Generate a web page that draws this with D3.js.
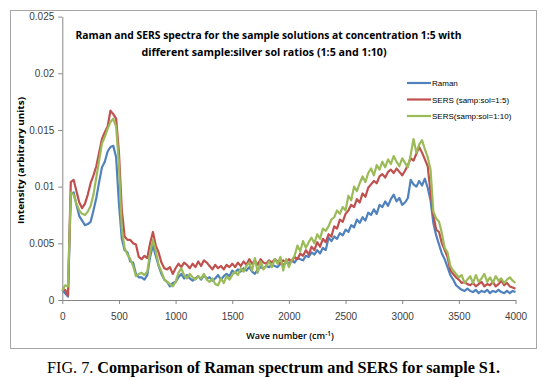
<!DOCTYPE html>
<html>
<head>
<meta charset="utf-8">
<script src="https://cdn.jsdelivr.net/npm/d3@7"></script>
<style>
  html, body { margin: 0; padding: 0; background: #fff; }
  svg { display: block; }
</style>
</head>
<body>
<svg id="chart" width="547" height="380"></svg>
<script>
// ---- DATA ----
const wavenumbers = [0,25,50,75,100,125,150,175,200,225,250,275,300,325,350,375,400,425,450,475,
500,525,550,575,600,625,650,675,700,725,750,775,800,825,850,875,900,925,950,975,
1000,1025,1050,1075,1100,1125,1150,1175,1200,1225,1250,1275,1300,1325,1350,1375,1400,1425,1450,1475,
1500,1525,1550,1575,1600,1625,1650,1675,1700,1725,1750,1775,1800,1825,1850,1875,1900,1925,1950,1975,
2000,2025,2050,2075,2100,2125,2150,2175,2200,2225,2250,2275,2300,2325,2350,2375,2400,2425,2450,2475,
2500,2525,2550,2575,2600,2625,2650,2675,2700,2725,2750,2775,2800,2825,2850,2875,2900,2925,2950,2975,
3000,3025,3050,3075,3100,3125,3150,3175,3200,3225,3250,3275,3300,3325,3350,3375,3400,3425,3450,3475,
3500,3525,3550,3575,3600,3625,3650,3675,3700,3725,3750,3775,3800,3825,3850,3875,3900,3925,3950,3975,4000];

const raman = [.0009,.0006,.0003,.0093,.0095,.0084,.0074,.0070,.0066,.0067,.0069,.0079,.0090,.0104,.0117,.0122,.0131,.0135,.0136,.0126,
.0085,.0054,.0044,.0042,.0034,.0033,.0023,.0020,.0020,.0018,.0022,.0038,.0048,.0039,.0030,.0023,.0018,.0016,.0012,.0015,
.0016,.0020,.0023,.0019,.0022,.0019,.0017,.0019,.0021,.0018,.0022,.0019,.0020,.0017,.0019,.0022,.0018,.0021,.0023,.0021,
.0026,.0024,.0027,.0025,.0028,.0026,.0029,.0025,.0023,.0027,.0029,.0028,.0030,.0029,.0031,.0030,.0029,.0032,.0031,.0033,
.0032,.0035,.0033,.0037,.0036,.0035,.0039,.0038,.0042,.0040,.0044,.0041,.0046,.0044,.0055,.0052,.0056,.0054,.0059,.0057,
.0062,.0060,.0066,.0064,.0071,.0068,.0073,.0070,.0077,.0075,.0080,.0076,.0084,.0082,.0087,.0083,.0089,.0093,.0087,.0090,
.0084,.0086,.0090,.0106,.0102,.0100,.0105,.0101,.0107,.0099,.0088,.0068,.0057,.0049,.0041,.0036,.0029,.0022,.0018,.0013,
.0011,.0009,.0008,.0010,.0008,.0007,.0009,.0006,.0008,.0007,.0009,.0006,.0008,.0007,.0009,.0007,.0006,.0008,.0006,.0008,.0007];

const sers15 = [.0009,.0009,.0004,.0104,.0106,.0096,.0086,.0081,.0085,.0093,.0103,.0110,.0118,.0130,.0142,.0148,.0153,.0167,.0164,.0160,
.0130,.0080,.0056,.0053,.0053,.0050,.0049,.0038,.0036,.0039,.0037,.0050,.0060,.0048,.0042,.0033,.0028,.0027,.0029,.0023,
.0028,.0032,.0029,.0033,.0031,.0028,.0032,.0029,.0034,.0030,.0035,.0033,.0030,.0027,.0031,.0028,.0030,.0027,.0031,.0029,
.0032,.0029,.0033,.0030,.0034,.0031,.0036,.0032,.0035,.0031,.0036,.0033,.0032,.0035,.0033,.0036,.0034,.0032,.0035,.0033,
.0036,.0034,.0038,.0036,.0041,.0039,.0044,.0040,.0047,.0044,.0051,.0047,.0054,.0051,.0058,.0056,.0065,.0063,.0071,.0069,
.0076,.0079,.0084,.0082,.0089,.0086,.0094,.0091,.0099,.0102,.0105,.0103,.0109,.0111,.0108,.0113,.0115,.0112,.0116,.0113,
.0110,.0114,.0119,.0125,.0123,.0129,.0135,.0130,.0124,.0118,.0095,.0075,.0062,.0060,.0050,.0044,.0038,.0026,.0023,.0020,
.0018,.0015,.0016,.0014,.0013,.0015,.0012,.0014,.0016,.0012,.0014,.0013,.0016,.0012,.0014,.0017,.0013,.0015,.0012,.0011,.0010];

const sers110 = [.0008,.0013,.0012,.0095,.0093,.0085,.0079,.0076,.0075,.0078,.0083,.0093,.0108,.0123,.0138,.0144,.0151,.0157,.0160,.0153,
.0120,.0063,.0046,.0040,.0036,.0030,.0021,.0023,.0024,.0022,.0025,.0042,.0053,.0043,.0031,.0025,.0018,.0016,.0014,.0012,
.0016,.0024,.0028,.0022,.0019,.0023,.0020,.0018,.0021,.0019,.0023,.0018,.0016,.0019,.0014,.0013,.0019,.0015,.0021,.0018,
.0022,.0025,.0022,.0028,.0025,.0030,.0033,.0026,.0037,.0024,.0034,.0027,.0030,.0034,.0029,.0036,.0032,.0038,.0026,.0036,
.0029,.0035,.0039,.0048,.0043,.0052,.0046,.0051,.0055,.0050,.0058,.0054,.0063,.0061,.0065,.0071,.0073,.0079,.0076,.0082,
.0079,.0092,.0088,.0100,.0096,.0103,.0109,.0104,.0112,.0116,.0110,.0119,.0115,.0122,.0117,.0124,.0120,.0127,.0122,.0118,
.0125,.0121,.0117,.0128,.0142,.0130,.0137,.0141,.0133,.0126,.0115,.0078,.0072,.0069,.0059,.0046,.0042,.0030,.0026,.0023,
.0020,.0022,.0015,.0018,.0021,.0015,.0022,.0016,.0019,.0023,.0016,.0020,.0015,.0021,.0017,.0019,.0015,.0018,.0020,.0017,.0015];

const seriesNames = ["Raman", "SERS (samp:sol=1:5)", "SERS(samp:sol=1:10)"];
const seriesColors = ["#4F81BD", "#C0504D", "#9BBB59"];
const xTicks = [0,500,1000,1500,2000,2500,3000,3500,4000];
const yTicks = [0,0.005,0.01,0.015,0.02,0.025];
const yTickLabels = ["0","0.005","0.01","0.015","0.02","0.025"];
const titleLines = ["Raman and SERS spectra for the sample solutions at concentration 1:5  with",
                    "different sample:silver sol ratios (1:5 and 1:10)"];

// ---- LAYOUT ----
const svg = d3.select("#chart");
const x = d3.scaleLinear().domain([0, 4000]).range([62.3, 515.5]);
const y = d3.scaleLinear().domain([0, 0.025]).range([300, 16.6]);
const axisColor = "#868686";
const tickFont = "Liberation Sans, Arial, sans-serif";

// chart frame
svg.append("rect").attr("x", 10.5).attr("y", 10.5).attr("width", 526).attr("height", 338)
  .attr("fill", "#fff").attr("stroke", "#a6a6a6").attr("stroke-width", 1);

// axes
const xAxis = d3.axisBottom(x).tickValues(xTicks).tickSize(4).tickSizeOuter(0).tickPadding(9)
  .tickFormat(d3.format("d"));
const gx = svg.append("g").attr("transform", "translate(0,300)").call(xAxis);
const yAxis = d3.axisLeft(y).tickValues(yTicks).tickSize(4).tickSizeOuter(0).tickPadding(4)
  .tickFormat((d, i) => yTickLabels[i]);
const gy = svg.append("g").attr("transform", "translate(62.3,0)").call(yAxis);
[gx, gy].forEach(g => {
  g.select(".domain").attr("stroke", axisColor);
  g.selectAll(".tick line").attr("stroke", axisColor);
  g.selectAll(".tick text").attr("fill", "#404040").style("font-family", tickFont).style("font-size", "10px");
});

// lines
const series = [raman, sers15, sers110];
const line = d3.line().x((d, i) => x(wavenumbers[i])).y(d => y(d));
series.forEach((s, k) => {
  svg.append("path").datum(s).attr("d", line).attr("fill", "none")
    .attr("stroke", seriesColors[k]).attr("stroke-width", 2.2).attr("stroke-linejoin", "round");
});

// title
const title = svg.append("g").style("font-family", "Open Sans, sans-serif").style("font-weight", "bold")
  .style("font-size", "11px").attr("fill", "#000");
title.append("text").attr("x", 75.5).attr("y", 39).attr("textLength", 386).attr("lengthAdjust", "spacingAndGlyphs").text(titleLines[0]);
title.append("text").attr("x", 141.5).attr("y", 56).attr("textLength", 245).attr("lengthAdjust", "spacingAndGlyphs").text(titleLines[1]);

// legend
const legendY = [83, 99.5, 116];
seriesNames.forEach((n, k) => {
  svg.append("line").attr("x1", 407).attr("x2", 431).attr("y1", legendY[k]).attr("y2", legendY[k])
    .attr("stroke", seriesColors[k]).attr("stroke-width", 2.2);
  svg.append("text").attr("x", 432).attr("y", legendY[k] + 3).style("font-family", tickFont)
    .style("font-size", "8px").attr("fill", "#000").text(n);
});

// axis titles
svg.append("text").attr("transform", "translate(24,160.5) rotate(-90)").attr("text-anchor", "middle")
  .style("font-family", "Open Sans, sans-serif").style("font-weight", "bold").style("font-size", "9px")
  .attr("textLength", 127).attr("lengthAdjust", "spacingAndGlyphs")
  .text("Intensity (arbitrary units)");
const xl = svg.append("text").attr("x", 290).attr("y", 339).attr("text-anchor", "middle")
  .style("font-family", "Open Sans, sans-serif").style("font-weight", "600").style("font-size", "9px");
xl.append("tspan").text("Wave number (cm");
xl.append("tspan").attr("dy", -3).style("font-size", "6.5px").text("-1");
xl.append("tspan").attr("dy", 3).text(")");

// caption
const cap = svg.append("text").attr("x", 47).attr("y", 372.5)
  .attr("textLength", 453).attr("lengthAdjust", "spacingAndGlyphs")
  .style("font-family", "Liberation Serif, Times New Roman, serif").style("font-size", "16px").attr("fill", "#000");
cap.append("tspan").text("FIG. 7. ");
cap.append("tspan").style("font-weight", "bold").text("Comparison of Raman spectrum and SERS for sample S1.");
</script>
</body>
</html>
